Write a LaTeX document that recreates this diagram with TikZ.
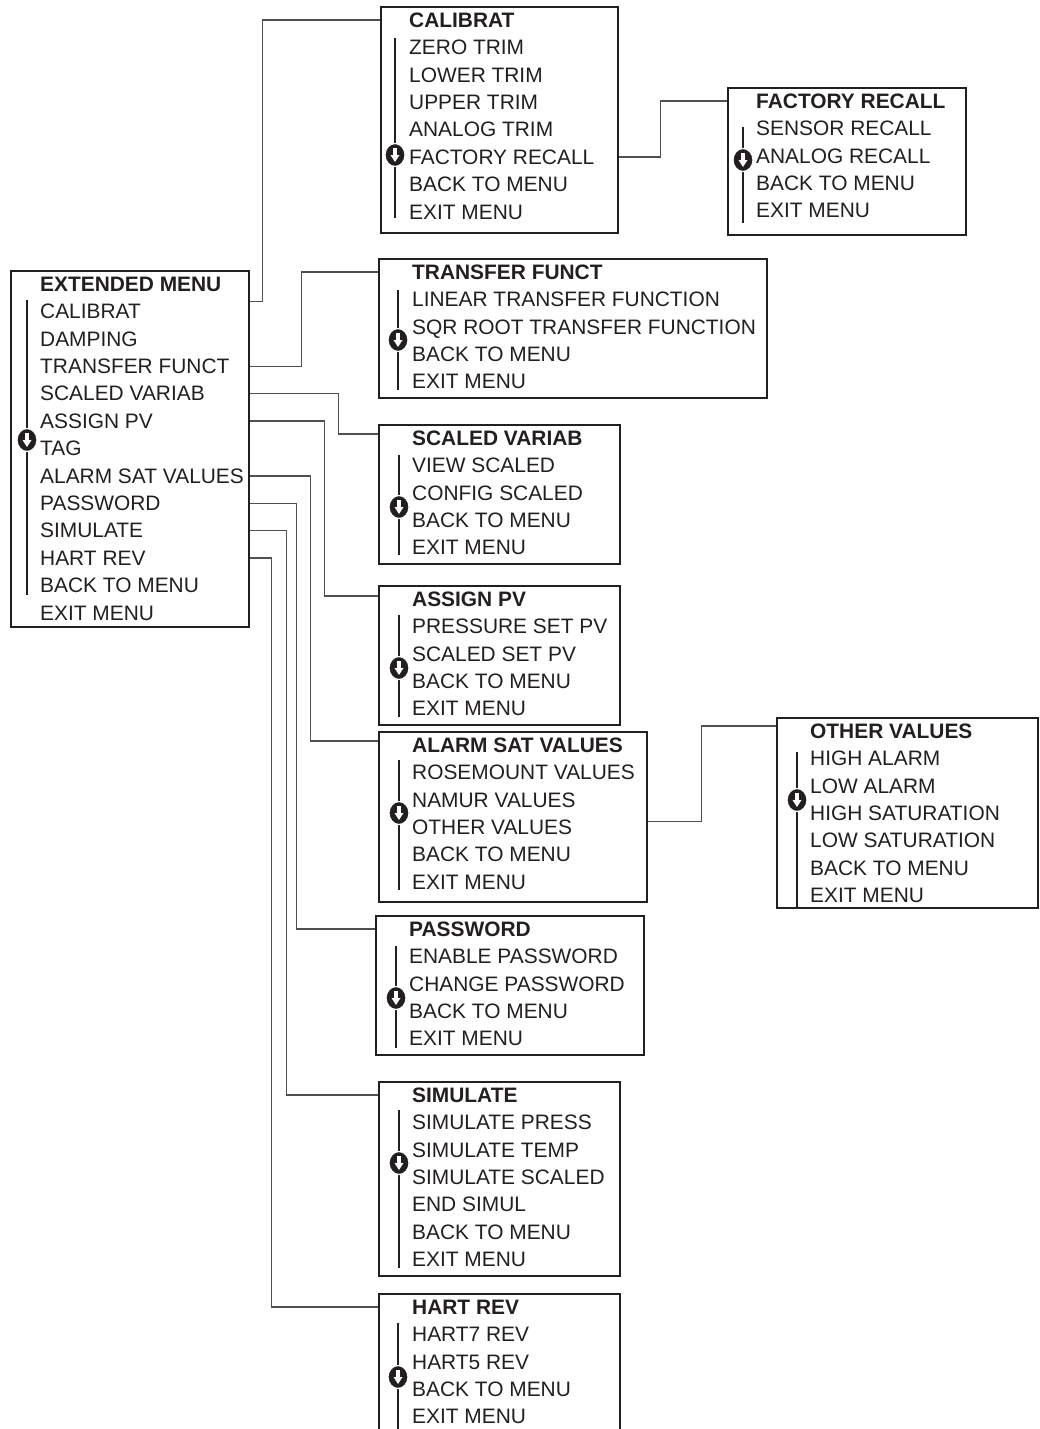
\documentclass[tikz,border=0pt]{standalone}
\usepackage{fontspec}
\setmainfont{Liberation Sans}
\usetikzlibrary{calc}

\definecolor{ink}{HTML}{231F20}
\definecolor{wire}{HTML}{505052}

\tikzset{
  menubox/.style={draw=ink, line width=2.2pt, anchor=north west, inner sep=0pt},
  row/.style={anchor=base west, inner sep=0pt, text=ink, font=\fontsize{20.9}{27.4}\selectfont},
  link/.style={draw=wire, line width=1.4pt},
  scroll/.style={draw=ink, line width=1.6pt},
  downicon/.pic={
    \fill[ink, draw=white, line width=1.2pt] (0,0) ellipse (10pt and 11.5pt);
    \fill[white] (-1.7,-7.5) rectangle (1.7,1);
    \fill[white] (-4.5,0) -- (4.5,0) -- (0,7) -- cycle;
  }
}

% rows of a menu: box name, text indent, list of lines
\newcommand{\menurows}[3]{%
  \foreach \t [count=\i from 0] in {#3}
    \node[row] (#1-\i) at ($(#1.north west)+(#2,21.3+27.4*\i)$) {\t};
}
% scroll bar: x, top, bottom, icon
\newcommand{\scrollbar}[4]{%
  \draw[scroll] (#1,#2) -- (#1,#3);
  \pic at (#1,#4) {downicon};
}

\begin{document}
\begin{tikzpicture}[x=1pt, y=-1pt]
\useasboundingbox (0,0) rectangle (1039,1429);
\clip (0,0) rectangle (1039,1429);

% boxes
\node[menubox, minimum width=238, minimum height=356] (ext) at (10,270) {};
\node[menubox, minimum width=237, minimum height=226] (calibrat) at (380,6) {};
\node[menubox, minimum width=238, minimum height=147] (factory) at (727,87) {};
\node[menubox, minimum width=388, minimum height=139] (transfer) at (378,258) {};
\node[menubox, minimum width=241, minimum height=139] (scaled) at (378,424) {};
\node[menubox, minimum width=241, minimum height=139] (assign) at (378,585) {};
\node[menubox, minimum width=268, minimum height=170] (alarm) at (378,731) {};
\node[menubox, minimum width=261, minimum height=190] (other) at (776,717) {};
\node[menubox, minimum width=268, minimum height=139] (password) at (375,915) {};
\node[menubox, minimum width=241, minimum height=194] (simulate) at (378,1081) {};
\node[menubox, minimum width=241, minimum height=170] (hart) at (378,1293) {};

% menu texts
\menurows{ext}{30}{\textbf{EXTENDED MENU}, CALIBRAT, DAMPING, TRANSFER FUNCT,
  SCALED VARIAB, ASSIGN PV, TAG, ALARM SAT VALUES, PASSWORD, SIMULATE,
  HART REV, BACK TO MENU, EXIT MENU}
\menurows{calibrat}{29}{\textbf{CALIBRAT}, ZERO TRIM, LOWER TRIM, UPPER TRIM,
  ANALOG TRIM, FACTORY RECALL, BACK TO MENU, EXIT MENU}
\menurows{factory}{29}{\textbf{FACTORY RECALL}, SENSOR RECALL, ANALOG RECALL,
  BACK TO MENU, EXIT MENU}
\menurows{transfer}{34}{\textbf{TRANSFER FUNCT}, LINEAR TRANSFER FUNCTION,
  SQR ROOT TRANSFER FUNCTION, BACK TO MENU, EXIT MENU}
\menurows{scaled}{34}{\textbf{SCALED VARIAB}, VIEW SCALED, CONFIG SCALED,
  BACK TO MENU, EXIT MENU}
\menurows{assign}{34}{\textbf{ASSIGN PV}, PRESSURE SET PV, SCALED SET PV,
  BACK TO MENU, EXIT MENU}
\menurows{alarm}{34}{\textbf{ALARM SAT VALUES}, ROSEMOUNT VALUES, NAMUR VALUES,
  OTHER VALUES, BACK TO MENU, EXIT MENU}
\menurows{other}{34}{\textbf{OTHER VALUES}, HIGH ALARM, LOW ALARM,
  HIGH SATURATION, LOW SATURATION, BACK TO MENU, EXIT MENU}
\menurows{password}{34}{\textbf{PASSWORD}, ENABLE PASSWORD, CHANGE PASSWORD,
  BACK TO MENU, EXIT MENU}
\menurows{simulate}{34}{\textbf{SIMULATE}, SIMULATE PRESS, SIMULATE TEMP,
  SIMULATE SCALED, END SIMUL, BACK TO MENU, EXIT MENU}
\menurows{hart}{34}{\textbf{HART REV}, HART7 REV, HART5 REV, BACK TO MENU,
  EXIT MENU}

% scroll bars
\scrollbar{27}{300}{595}{440}
\scrollbar{395}{38}{218}{155}
\scrollbar{743}{127}{223}{160}
\scrollbar{398}{290}{390}{340}
\scrollbar{399}{455}{555}{507}
\scrollbar{399}{615}{717}{668}
\scrollbar{399}{760}{890}{813}
\scrollbar{797}{752}{907}{800}
\scrollbar{396}{946}{1048}{998}
\scrollbar{399}{1110}{1268}{1163}
\scrollbar{398}{1323}{1440}{1377}

% connectors
\draw[link] ([yshift=10pt]ext.east |- ext-1) -- ++(12,0) |- (calibrat.west |- calibrat-0);
\draw[link] (ext.east |- ext-3) -- ++(51,0) |- (transfer.west |- transfer-0);
\draw[link] (ext.east |- ext-4) -- ++(88,0) |- ([yshift=4pt]scaled.west |- scaled-0);
\draw[link] (ext.east |- ext-5) -- ++(74,0) |- ([yshift=3pt]assign.west |- assign-0);
\draw[link] (ext.east |- ext-7) -- ++(60,0) |- ([yshift=4pt]alarm.west |- alarm-0);
\draw[link] (ext.east |- ext-8) -- ++(46,0) |- (password.west |- password-0);
\draw[link] (ext.east |- ext-9) -- ++(36,0) |- (simulate.west |- simulate-0);
\draw[link] (ext.east |- ext-10) -- ++(21,0) |- (hart.west |- hart-0);
\draw[link] (calibrat.east |- calibrat-5) -- ++(41,0) |- (factory.west |- factory-0);
\draw[link] ([yshift=6pt]alarm.east |- alarm-3) -- ++(53,0) |- ([yshift=5pt]other.west |- other-0);
\end{tikzpicture}
\end{document}
